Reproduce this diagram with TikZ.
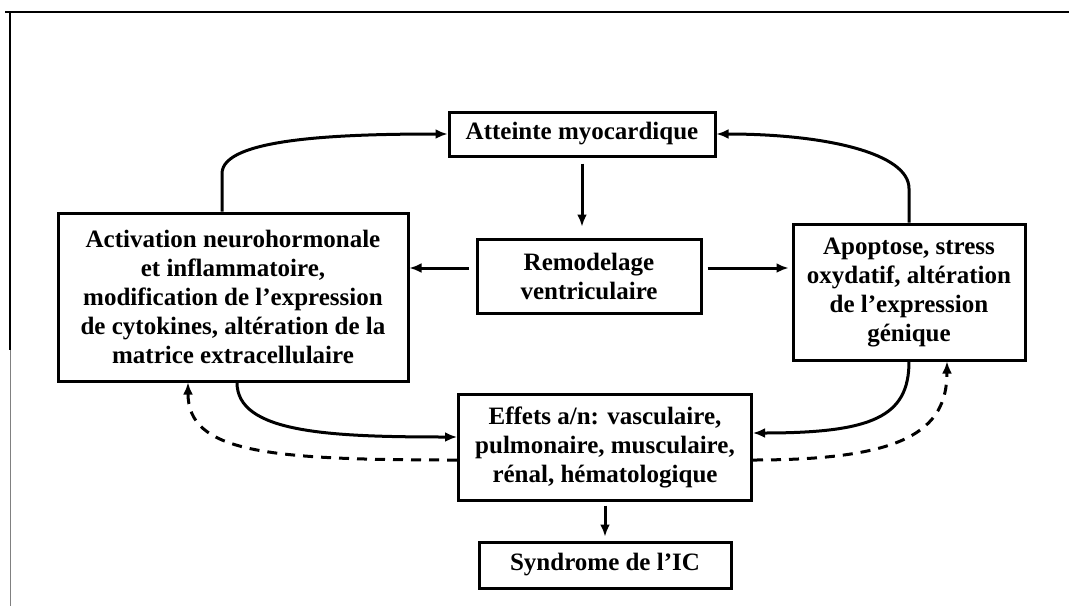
\documentclass[tikz,border=0pt]{standalone}
\usepackage{fontspec}
\setmainfont{Liberation Serif}
\usetikzlibrary{arrows.meta}

\begin{document}
\begin{tikzpicture}[x=1pt, y=-1pt,
  every node/.style = {font=\bfseries\fontsize{25}{29}\selectfont},
  box/.style = {draw, line width=3pt, fill=white,
    align=center, inner sep=0pt},
  arr/.style = {line width=3pt, -{Latex[length=12pt,width=10pt]}},
  back/.style = {arr, dash pattern=on 10pt off 8pt}]
  \useasboundingbox (0,0) rectangle (1069,606);
  \draw[line width=2pt] (5,12) -- (1069,12);
  \draw[line width=2pt] (10,12) -- (10,350);
  \draw[line width=1pt, gray] (10,350) -- (10,606);

  \node[box, minimum width=266pt, minimum height=44pt] (att) at (582,134)
    {Atteinte myocardique};
  \node[box, minimum width=224pt, minimum height=74pt] (rem) at (589,276)
    {Remodelage\\ ventriculaire};
  \node[box, minimum width=350pt, minimum height=168pt] (act) at (233,297)
    {Activation neurohormonale\\ et inflammatoire,\\ modification de l’expression\\ de cytokines, altération de la\\ matrice extracellulaire};
  \node[box, minimum width=232pt, minimum height=136pt] (apo) at (909,292)
    {Apoptose, stress\\ oxydatif, altération\\ de l’expression\\ génique};
  \node[box, minimum width=293pt, minimum height=106pt] (eff) at (605,447)
    {Effets a/n: vasculaire,\\ pulmonaire, musculaire,\\ rénal, hématologique};
  \node[box, minimum width=252pt, minimum height=46pt] (syn) at (605,565)
    {Syndrome de l’IC};

  \draw[arr] ([yshift=-6pt]att.south) -- ([yshift=11pt]att.south |- rem.north);
  \draw[arr] ([xshift=-7pt,yshift=8pt]rem.west) -- ([yshift=8pt]rem.west -| act.east);
  \draw[arr, shorten >=3pt] ([xshift=5pt,yshift=8pt]rem.east) -- ([yshift=8pt]rem.east -| apo.west);
  \draw[arr] ([xshift=-11pt]act.north) -- ++(0,-38)
    .. controls +(0,-35) and +(-110,0) .. (att.west);
  \draw[arr] (apo.north) -- ++(0,-34)
    .. controls +(0,-35) and +(110,0) .. (att.east);
  \draw[arr] ([xshift=4pt]act.south)
    .. controls +(0,50) and +(-130,0) .. ([yshift=10pt]eff.west);
  \draw[arr] (apo.south)
    .. controls +(0,55) and +(120,0) .. ([yshift=14pt]eff.east);
  \draw[back] ([yshift=-13pt]eff.west)
    .. controls +(-190,0) and +(0,70) .. ([xshift=-45pt]act.south);
  \draw[back] ([yshift=-13pt]eff.east)
    .. controls +(150,0) and +(0,70) .. ([xshift=38pt]apo.south);
  \draw[arr] ([yshift=-4pt]eff.south) -- ([yshift=4pt]syn.north);
\end{tikzpicture}
\end{document}
